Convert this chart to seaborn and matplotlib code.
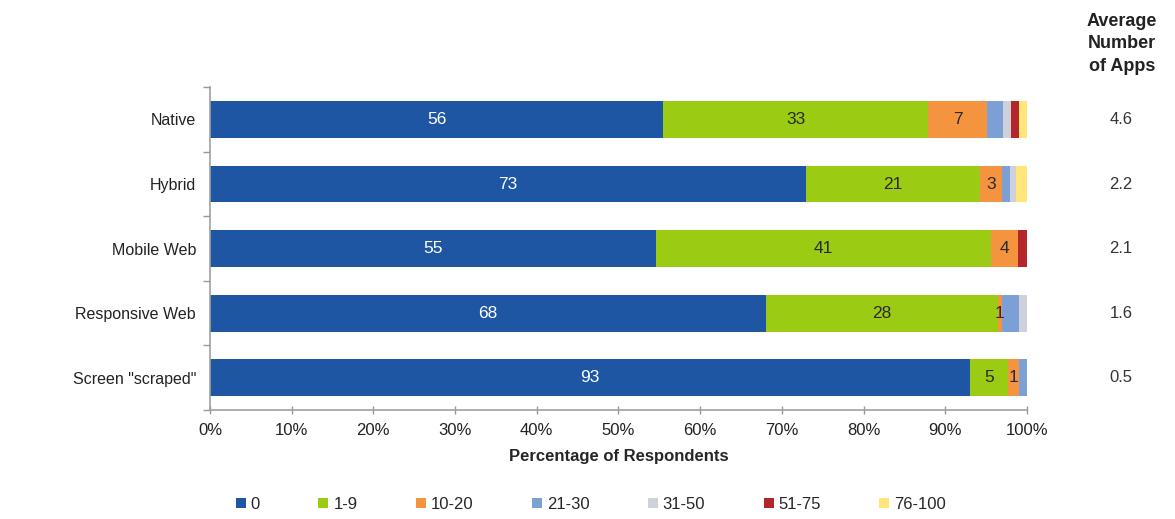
import matplotlib
matplotlib.use("Agg")
import matplotlib.pyplot as plt
import seaborn as sns
import numpy as np
import pandas as pd
from matplotlib.patches import Patch

categories = ["Native", "Hybrid", "Mobile Web", "Responsive Web", "Screen \"scraped\""]
bins = ["0", "1-9", "10-20", "21-30", "31-50", "51-75", "76-100"]
s_0 = [55.5, 73.0, 54.6, 68.0, 93.0]
s_1_9 = [32.4, 21.2, 41.0, 28.4, 4.7]
s_10_20 = [7.2, 2.8, 3.3, 0.6, 1.3]
s_21_30 = [2.0, 0.9, 0.0, 2.0, 1.0]
s_31_50 = [1.0, 0.7, 0.0, 1.0, 0.0]
s_51_75 = [0.9, 0.0, 1.1, 0.0, 0.0]
s_76_100 = [1.0, 1.4, 0.0, 0.0, 0.0]
label_0 = [56, 73, 55, 68, 93]
label_1_9 = [33, 21, 41, 28, 5]
label_10_20 = [7, 3, 4, 1, 1]
avg_apps = ["4.6", "2.2", "2.1", "1.6", "0.5"]

colors = ["#1F56A3", "#9BCB12", "#F4943F", "#7C9FD6", "#CDD2DA", "#B3262C", "#FFE57A"]

sns.set_theme(style="white")
plt.rcParams["font.family"] = ["Liberation Sans", "DejaVu Sans"]

series = [s_0, s_1_9, s_10_20, s_21_30, s_31_50, s_51_75, s_76_100]
cum = np.cumsum(np.array(series), axis=0)

fig = plt.figure(figsize=(11.75, 5.19), dpi=100)
ax = fig.add_axes([0.1787, 0.21, 0.874 - 0.1787, 0.622])

for k in range(len(bins) - 1, -1, -1):
    df = pd.DataFrame({"cat": categories, "val": cum[k]})
    sns.barplot(data=df, y="cat", x="val", color=colors[k], orient="h",
                width=0.57, ax=ax, saturation=1, edgecolor="none", linewidth=0)

label_sets = [(label_0, 0, "white"), (label_1_9, 1, "#2b2b2b"), (label_10_20, 2, "#2b2b2b")]
for labels, k, tc in label_sets:
    for i, lab in enumerate(labels):
        left = cum[k - 1][i] if k > 0 else 0.0
        xc = left + series[k][i] / 2
        ax.text(xc, i, str(lab), ha="center", va="center", fontsize=12.5, color=tc)

ax.set_xlim(0, 100)
ax.set_ylim(4.5, -0.5)
ax.set_xticks(np.arange(0, 101, 10))
ax.set_xticklabels([f"{v}%" for v in range(0, 101, 10)], fontsize=12, color="#222222")
ax.set_yticks(range(len(categories)))
ax.set_yticklabels(categories, fontsize=11.5, color="#222222")
ax.tick_params(axis="y", which="major", left=True, length=0, pad=10)
ax.set_yticks(np.arange(-0.5, 5, 1), minor=True)
ax.tick_params(axis="y", which="minor", left=True, length=5, width=1, color="#999999",
               direction="out")
ax.tick_params(axis="x", bottom=True, length=6, width=1, color="#999999",
               direction="inout", pad=6)
ax.set_xlabel("Percentage of Respondents", fontsize=12, fontweight="bold", labelpad=8)
ax.set_ylabel("")
for s in ["top", "right"]:
    ax.spines[s].set_visible(False)
for s in ["left", "bottom"]:
    ax.spines[s].set_color("#A0A0A0")
    ax.spines[s].set_linewidth(1.2)

# right column
fig.text(0.955, 0.855, "Average\nNumber\nof Apps", ha="center", va="bottom",
         fontsize=13, fontweight="bold", linespacing=1.45, color="#222222")
for i, v in enumerate(avg_apps):
    ax.text(1.115, i, v, transform=ax.get_yaxis_transform(), ha="center", va="center",
            fontsize=12, color="#333333")

handles = [Patch(facecolor=c, edgecolor="none") for c in colors]
fig.legend(handles, bins, loc="center", bbox_to_anchor=(0.503, 0.028), ncol=7,
           frameon=False, fontsize=12, handlelength=0.6, handleheight=0.6,
           handletextpad=0.3, columnspacing=3.5)

fig.savefig("out.png", dpi=100)
